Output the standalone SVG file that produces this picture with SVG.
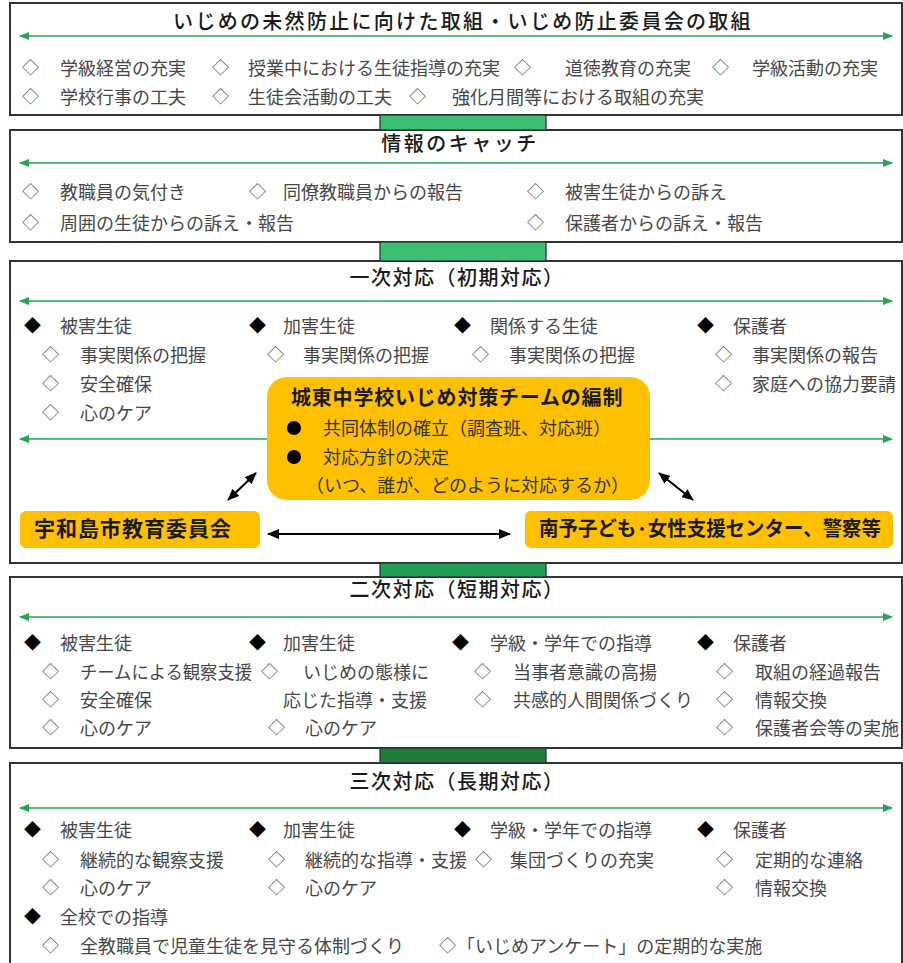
<svg xmlns="http://www.w3.org/2000/svg" width="903" height="963" viewBox="0 0 903 963">
<style>
  text { font-family: "Noto Sans CJK JP", "Noto Sans", sans-serif; }
  .box { fill: #ffffff; stroke: #333333; stroke-width: 2; }
  .ttl { font-size: 20px; fill: #1a1a1a; text-anchor: middle; letter-spacing: 1.5px; font-weight: 500; }
  .it { font-size: 18px; fill: #474747; }
  .dia { font-size: 17px; fill: #555555; }
  .bd { font-size: 17px; fill: #000000; }
  .garr { stroke: #22a651; stroke-width: 1.6; fill: none; marker-end: url(#gh); }
  .garr2 { stroke: #22a651; stroke-width: 1.6; fill: none; marker-start: url(#ghs); marker-end: url(#gh); }
  .karr { stroke: #000000; stroke-width: 2; fill: none; marker-start: url(#khs); marker-end: url(#kh); }
  .org { fill: #ffc000; }
  .otl { font-size: 20px; font-weight: bold; fill: #1a1a1a; }
  .oit { font-size: 18px; fill: #333333; }
  .link1 { fill: #3cbf73; stroke: #2b2b2b; stroke-width: 1.2; }
  .link2 { fill: #22a055; stroke: #2b2b2b; stroke-width: 1.2; }
  .link3 { fill: #1e7b3c; stroke: #2b2b2b; stroke-width: 1.2; }
</style>
<defs>
  <marker id="gh" markerWidth="10" markerHeight="8" refX="9" refY="4" orient="auto" markerUnits="userSpaceOnUse">
    <path d="M0,0 L10,4 L0,8 Z" fill="#22a651"/>
  </marker>
  <marker id="ghs" markerWidth="10" markerHeight="8" refX="1" refY="4" orient="auto" markerUnits="userSpaceOnUse">
    <path d="M10,0 L0,4 L10,8 Z" fill="#22a651"/>
  </marker>
  <marker id="kh" markerWidth="12" markerHeight="10" refX="11" refY="5" orient="auto" markerUnits="userSpaceOnUse">
    <path d="M0,0 L12,5 L0,10 Z" fill="#000000"/>
  </marker>
  <marker id="khs" markerWidth="12" markerHeight="10" refX="1" refY="5" orient="auto" markerUnits="userSpaceOnUse">
    <path d="M12,0 L0,5 L12,10 Z" fill="#000000"/>
  </marker>
</defs>

<!-- Section 1 -->
<g id="sec1">
  <rect class="box" x="10" y="3" width="892" height="112"/>
  <text class="ttl" x="463" y="29" style="letter-spacing:2.3px">いじめの未然防止に向けた取組・いじめ防止委員会の取組</text>
  <line class="garr2" x1="20" y1="36" x2="892" y2="36"/>
  <text class="dia" x="22" y="74">◇</text><text class="it" x="60" y="75">学級経営の充実</text>
  <text class="dia" x="212" y="74">◇</text><text class="it" x="248" y="75">授業中における生徒指導の充実</text>
  <text class="dia" x="514" y="74">◇</text><text class="it" x="565" y="75">道徳教育の充実</text>
  <text class="dia" x="712" y="74">◇</text><text class="it" x="752" y="75">学級活動の充実</text>
  <text class="dia" x="22" y="103">◇</text><text class="it" x="60" y="104">学校行事の工夫</text>
  <text class="dia" x="212" y="103">◇</text><text class="it" x="248" y="104">生徒会活動の工夫</text>
  <text class="dia" x="409" y="103">◇</text><text class="it" x="452" y="104">強化月間等における取組の充実</text>
</g>

<!-- Section 2 -->
<g id="sec2">
  <rect class="box" x="10" y="130" width="892" height="112"/>
  <text class="ttl" x="460" y="151" style="letter-spacing:2.5px">情報のキャッチ</text>
  <line class="garr2" x1="20" y1="163" x2="892" y2="163"/>
  <text class="dia" x="22" y="198">◇</text><text class="it" x="60" y="199">教職員の気付き</text>
  <text class="dia" x="249" y="198">◇</text><text class="it" x="283" y="199">同僚教職員からの報告</text>
  <text class="dia" x="527" y="198">◇</text><text class="it" x="565" y="199">被害生徒からの訴え</text>
  <text class="dia" x="22" y="229">◇</text><text class="it" x="60" y="230">周囲の生徒からの訴え・報告</text>
  <text class="dia" x="527" y="229">◇</text><text class="it" x="565" y="230">保護者からの訴え・報告</text>
</g>

<!-- Section 3 -->
<g id="sec3">
  <rect class="box" x="10" y="261" width="892" height="302"/>
  <text class="ttl" x="457" y="285">一次対応（初期対応）</text>
  <line class="garr2" x1="20" y1="301" x2="892" y2="301"/>
  <text class="bd" x="24" y="332">◆</text><text class="it" x="60" y="333">被害生徒</text>
  <text class="bd" x="249" y="332">◆</text><text class="it" x="283" y="333">加害生徒</text>
  <text class="bd" x="454" y="332">◆</text><text class="it" x="490" y="333">関係する生徒</text>
  <text class="bd" x="697" y="332">◆</text><text class="it" x="733" y="333">保護者</text>
  <text class="dia" x="42" y="361">◇</text><text class="it" x="80" y="362">事実関係の把握</text>
  <text class="dia" x="267" y="361">◇</text><text class="it" x="303" y="362">事実関係の把握</text>
  <text class="dia" x="472" y="361">◇</text><text class="it" x="509" y="362">事実関係の把握</text>
  <text class="dia" x="715" y="361">◇</text><text class="it" x="752" y="362">事実関係の報告</text>
  <text class="dia" x="42" y="390">◇</text><text class="it" x="80" y="391">安全確保</text>
  <text class="dia" x="715" y="390">◇</text><text class="it" x="752" y="391">家庭への協力要請</text>
  <text class="dia" x="42" y="419">◇</text><text class="it" x="80" y="420">心のケア</text>
</g>

<!-- Section 4 -->
<g id="sec4">
  <rect class="box" x="10" y="577" width="892" height="171"/>
  <text class="ttl" x="457" y="597">二次対応（短期対応）</text>
  <line class="garr2" x1="20" y1="617" x2="892" y2="617"/>
  <text class="bd" x="24" y="649">◆</text><text class="it" x="60" y="650">被害生徒</text>
  <text class="bd" x="249" y="649">◆</text><text class="it" x="283" y="650">加害生徒</text>
  <text class="bd" x="452" y="649">◆</text><text class="it" x="490" y="650">学級・学年での指導</text>
  <text class="bd" x="697" y="649">◆</text><text class="it" x="733" y="650">保護者</text>
  <text class="dia" x="42" y="678">◇</text><text class="it" x="80" y="679" textLength="172" lengthAdjust="spacingAndGlyphs">チームによる観察支援</text>
  <text class="dia" x="261" y="678">◇</text><text class="it" x="303" y="679">いじめの態様に</text>
  <text class="dia" x="474" y="678">◇</text><text class="it" x="513" y="679">当事者意識の高揚</text>
  <text class="dia" x="716" y="678">◇</text><text class="it" x="755" y="679">取組の経過報告</text>
  <text class="dia" x="42" y="706">◇</text><text class="it" x="80" y="707">安全確保</text>
  <text class="it" x="283" y="707">応じた指導・支援</text>
  <text class="dia" x="474" y="706">◇</text><text class="it" x="513" y="707">共感的人間関係づくり</text>
  <text class="dia" x="716" y="706">◇</text><text class="it" x="755" y="707">情報交換</text>
  <text class="dia" x="42" y="734">◇</text><text class="it" x="80" y="735">心のケア</text>
  <text class="dia" x="268" y="734">◇</text><text class="it" x="305" y="735">心のケア</text>
  <text class="dia" x="716" y="734">◇</text><text class="it" x="755" y="735">保護者会等の実施</text>
</g>

<!-- Section 5 -->
<g id="sec5">
  <rect class="box" x="10" y="763" width="892" height="215"/>
  <text class="ttl" x="457" y="789">三次対応（長期対応）</text>
  <line class="garr2" x1="20" y1="808" x2="892" y2="808"/>
  <text class="bd" x="24" y="836">◆</text><text class="it" x="60" y="837">被害生徒</text>
  <text class="bd" x="249" y="836">◆</text><text class="it" x="283" y="837">加害生徒</text>
  <text class="bd" x="454" y="836">◆</text><text class="it" x="490" y="837">学級・学年での指導</text>
  <text class="bd" x="697" y="836">◆</text><text class="it" x="733" y="837">保護者</text>
  <text class="dia" x="42" y="866">◇</text><text class="it" x="80" y="867">継続的な観察支援</text>
  <text class="dia" x="268" y="866">◇</text><text class="it" x="305" y="867">継続的な指導・支援</text>
  <text class="dia" x="475" y="866">◇</text><text class="it" x="510" y="867">集団づくりの充実</text>
  <text class="dia" x="716" y="866">◇</text><text class="it" x="755" y="867">定期的な連絡</text>
  <text class="dia" x="42" y="894">◇</text><text class="it" x="80" y="895">心のケア</text>
  <text class="dia" x="268" y="894">◇</text><text class="it" x="305" y="895">心のケア</text>
  <text class="dia" x="716" y="894">◇</text><text class="it" x="755" y="895">情報交換</text>
  <text class="bd" x="24" y="923">◆</text><text class="it" x="60" y="924">全校での指導</text>
  <text class="dia" x="42" y="952">◇</text><text class="it" x="80" y="953">全教職員で児童生徒を見守る体制づくり</text>
  <text class="dia" x="439" y="952">◇</text><text class="it" x="457" y="953">「いじめアンケート」の定期的な実施</text>
</g>

<!-- Orange nodes -->
<g id="team">
  <rect class="org" x="267" y="377" width="383" height="123" rx="20" ry="20"/>
  <text class="otl" x="291" y="405" style="letter-spacing:0.8px">城東中学校いじめ対策チームの編制</text>
  <circle cx="294" cy="428" r="7" fill="#000000"/>
  <text class="oit" x="323" y="435">共同体制の確立（調査班、対応班）</text>
  <circle cx="294" cy="457" r="7" fill="#000000"/>
  <text class="oit" x="323" y="464">対応方針の決定</text>
  <text class="oit" x="306" y="492">（いつ、誰が、どのように対応するか）</text>
</g>
<g id="board">
  <rect class="org" x="20" y="511" width="240" height="37" rx="6" ry="6"/>
  <text class="otl" x="34" y="536" style="font-size:21px;letter-spacing:1px">宇和島市教育委員会</text>
</g>
<g id="support">
  <rect class="org" x="525" y="511" width="368" height="37" rx="6" ry="6"/>
  <text class="otl" x="539" y="536" textLength="342" lengthAdjust="spacingAndGlyphs">南予子ども·女性支援センター、警察等</text>
</g>

<!-- Connectors -->
<g id="connectors">
  <rect class="link1" x="380" y="115" width="166" height="15"/>
  <rect class="link1" x="380" y="242" width="166" height="19"/>
  <rect class="link2" x="380" y="563" width="166" height="14"/>
  <rect class="link3" x="380" y="748" width="166" height="15"/>
  <line class="garr" x1="267" y1="439" x2="20" y2="439"/>
  <line class="garr" x1="650" y1="439" x2="892" y2="439"/>
  <line class="karr" x1="228" y1="500" x2="256" y2="473"/>
  <line class="karr" x1="659" y1="473" x2="693" y2="500"/>
  <line class="karr" x1="268" y1="534" x2="510" y2="534"/>
</g>
</svg>
